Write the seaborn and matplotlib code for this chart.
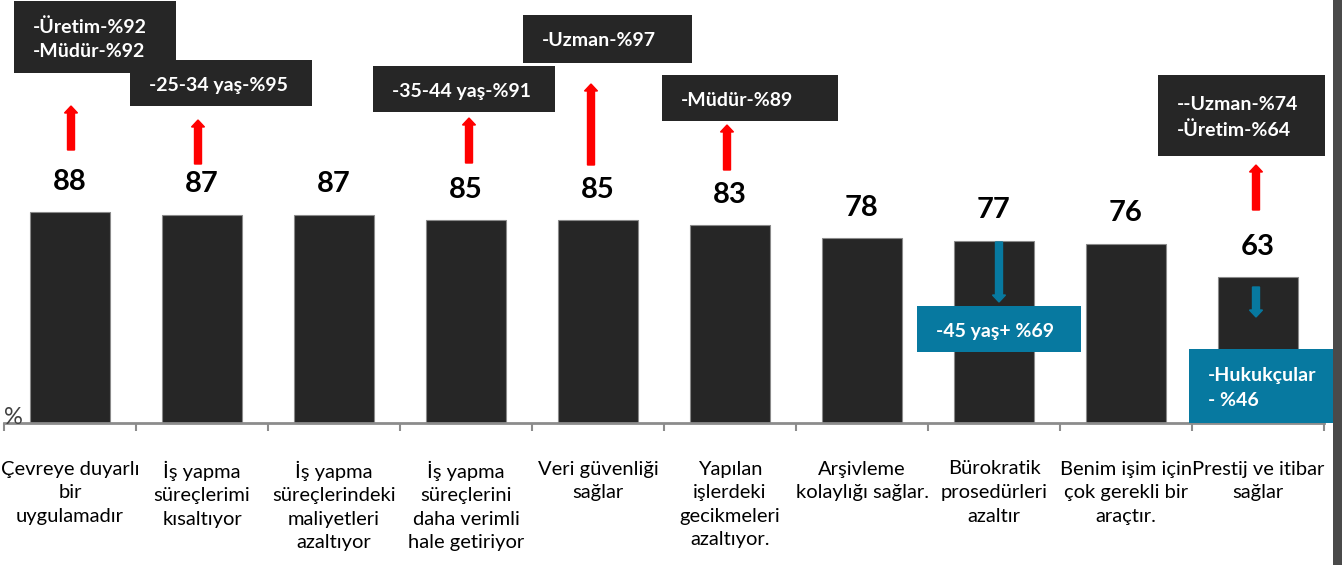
import matplotlib
matplotlib.use("Agg")
import matplotlib.pyplot as plt
from matplotlib.patches import Rectangle
import seaborn as sns
import pandas as pd

# ---------------- data ----------------
categories = [
    "Çevreye duyarlı\nbir\nuygulamadır",
    "İş yapma\nsüreçlerimi\nkısaltıyor",
    "İş yapma\nsüreçlerindeki\nmaliyetleri\nazaltıyor",
    "İş yapma\nsüreçlerini\ndaha verimli\nhale getiriyor",
    "Veri güvenliği\nsağlar",
    "Yapılan\nişlerdeki\ngecikmeleri\nazaltıyor.",
    "Arşivleme\nkolaylığı sağlar.",
    "Bürokratik\nprosedürleri\nazaltır",
    "Benim işim için\nçok gerekli bir\naraçtır.",
    "Prestij ve itibar\nsağlar",
]
values = [88, 87, 87, 85, 85, 83, 78, 77, 76, 63]

# callout texts (bar index, text, kind)
callout_bar = [0, 1, 3, 4, 5, 9, 7, 9]
callout_text = [
    "-Üretim-%92\n-Müdür-%92",
    "-25-34 yaş-%95",
    "-35-44 yaş-%91",
    "-Uzman-%97",
    "-Müdür-%89",
    "--Uzman-%74\n-Üretim-%64",
    "-45 yaş+ %69",
    "-Hukukçular\n- %46",
]
callout_kind = ["up", "up", "up", "up", "up", "up", "down", "down"]

# ---------------- layout / style (pixel space of a 1342x565 canvas) ----------------
W, H = 1342, 565
BASE_PX = 423          # y pixel of the axis line
LEFT_PX, RIGHT_PX = 4, 1324
YMIN = 7
PX_PER_UNIT = 2.6
X0_PX, STEP_PX = 70, 132

box_px = [  # x0, y0, x1, y1
    (14, 1, 176, 73),
    (130, 60, 312, 106),
    (373, 66, 555, 112),
    (523, 15, 692, 63),
    (662, 75, 838, 121),
    (1158, 75, 1325, 156),
    (917, 306, 1081, 352),
    (1189, 349, 1340, 423),
]
arrow_px = [  # x, y_from, y_to
    (71, 150, 106),
    (198, 164, 120),
    (469, 163, 118),
    (591, 165, 84),
    (727, 170, 125),
    (1256, 210, 165),
    (999, 242, 302),
    (1256, 287, 317),
]

DARK = "#262626"
TEAL = "#0779A0"
RED = "#FF0000"

FONT = ["Lato", "DejaVu Sans"]

sns.set_theme(style="white")
plt.rcParams["font.family"] = FONT


def dx(px):
    return (px - X0_PX) / STEP_PX


def dy(py):
    return YMIN + (BASE_PX - py) / PX_PER_UNIT


fig = plt.figure(figsize=(W / 100, H / 100), dpi=100)
ax = fig.add_axes([LEFT_PX / W, (H - BASE_PX) / H, (RIGHT_PX - LEFT_PX) / W, BASE_PX / H])

df = pd.DataFrame({"cat": categories, "val": values})
sns.barplot(data=df, x="cat", y="val", color=DARK, width=0.6, ax=ax,
            edgecolor="#8a8a8a", linewidth=0.8, saturation=1, zorder=2)

ax.set_xlim(-0.5, len(categories) - 0.5)
ax.set_ylim(YMIN, YMIN + BASE_PX / PX_PER_UNIT)
ax.set_xlabel("")
ax.set_ylabel("")
ax.set_yticks([])
for s in ["top", "right", "left"]:
    ax.spines[s].set_visible(False)
ax.spines["bottom"].set_color("#8c8c8c")
ax.spines["bottom"].set_linewidth(2)

ax.set_xticks(range(len(categories)))
ax.set_xticklabels(categories, fontsize=14.5, color="#000000", linespacing=1.47, va="top")
ax.tick_params(axis="x", which="major", length=0, pad=27)
ax.set_xticks([i - 0.5 for i in range(len(categories) + 1)], minor=True)
ax.tick_params(axis="x", which="minor", length=6, width=1.5, color="#8c8c8c", bottom=True)

# value labels
for i, v in enumerate(values):
    ax.annotate(str(v), (i, v), xytext=(0, 22), textcoords="offset points",
                ha="center", va="center", fontsize=21, fontweight="bold", color="#000000")

# callout boxes
for (x0, y0, x1, y1), txt, kind in zip(box_px, callout_text, callout_kind):
    col = DARK if kind == "up" else TEAL
    ax.add_patch(Rectangle((dx(x0), dy(y1)), dx(x1) - dx(x0), dy(y0) - dy(y1),
                           facecolor=col, edgecolor="none", zorder=5, clip_on=False))
    ax.text(dx(x0 + 19), dy((y0 + y1) / 2 + 2), txt, ha="left", va="center",
            fontsize=14, fontweight="bold", color="white", linespacing=1.5,
            zorder=6, clip_on=False)

# arrows
for (x, y_from, y_to), kind in zip(arrow_px, callout_kind):
    col = RED if kind == "up" else TEAL
    ax.arrow(dx(x), dy(y_from), 0, dy(y_to) - dy(y_from),
             width=7 / STEP_PX, head_width=13 / STEP_PX, head_length=7 / PX_PER_UNIT,
             length_includes_head=True, color=col, zorder=4, clip_on=False)

# "%" marker and right-hand frame strip
fig.text(4 / W, 1 - 418 / H, "%", ha="left", va="center", fontsize=17, color="#404040")
fig.patches.append(Rectangle((1333 / W, 0), 9 / W, 1, transform=fig.transFigure,
                             facecolor="#4a4a4a", edgecolor="none"))

fig.savefig("out.png", dpi=100)
